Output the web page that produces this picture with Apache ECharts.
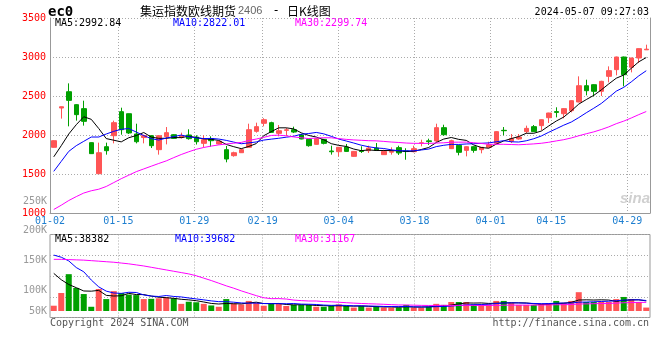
<!DOCTYPE html>
<html><head><meta charset="utf-8">
<script src="https://cdn.jsdelivr.net/npm/echarts@6/dist/echarts.min.js"></script>
<style>html,body{margin:0;padding:0;background:#fff}#c{width:660px;height:360px}</style>
</head><body><div id="c"></div>
<script>
const dates = ['01-02','01-03','01-04','01-05','01-08','01-09','01-10','01-11','01-12','01-15','01-16','01-17','01-18','01-19','01-22','01-23','01-24','01-25','01-26','01-29','01-30','01-31',
'02-01','02-02','02-05','02-06','02-07','02-08','02-19','02-20','02-21','02-22','02-23','02-26','02-27','02-28','02-29',
'03-01','03-04','03-05','03-06','03-07','03-08','03-11','03-12','03-13','03-14','03-15','03-18','03-19','03-20','03-21','03-22','03-25','03-26','03-27','03-28','03-29',
'04-01','04-02','04-03','04-08','04-09','04-10','04-11','04-12','04-15','04-16','04-17','04-18','04-19','04-22','04-23','04-24','04-25','04-26','04-29','04-30',
'05-06','05-07'];
const openP  = [1842,2346,2555,2389,2338,1902,1504,1850,1991,2299,2273,2013,1967,1991,1812,1979,2004,1970,2000,1974,1893,1953,1885,1812,1735,1773,1842,2047,2150,2158,2021,2060,2068,2000,1944,1880,1944,1795,1786,1846,1726,1795,1799,1833,1748,1780,1838,1795,1786,1895,1925,1923,2094,1825,1867,1803,1850,1812,1842,1893,2060,1919,1949,2043,2107,2120,2222,2300,2273,2312,2423,2632,2645,2560,2752,2838,3000,2868,2987,3092];
const closeP = [1927,2362,2444,2261,2175,1761,1773,1799,2158,2068,2026,1914,1992,1863,1991,2030,1957,1988,1953,1914,1940,1927,1920,1692,1773,1812,2068,2107,2196,2034,2055,2066,2038,1949,1863,1953,1893,1785,1842,1790,1790,1788,1833,1803,1790,1788,1770,1788,1825,1900,1915,2094,2004,1927,1778,1850,1803,1842,1876,2043,2055,1953,1974,2085,2043,2196,2282,2290,2338,2440,2632,2568,2560,2688,2825,3000,2773,2987,3107,3100];
const lowP   = [1838,2210,2111,2184,2120,1758,1500,1748,1893,2004,2013,1893,1893,1833,1748,1880,1950,1955,1940,1878,1842,1850,1880,1650,1722,1770,1840,2030,2111,2030,1983,1987,2025,1945,1850,1875,1880,1748,1726,1785,1720,1770,1770,1795,1745,1748,1744,1683,1778,1855,1872,1910,1991,1820,1739,1726,1773,1765,1838,1885,1996,1897,1940,2021,2040,2060,2154,2226,2214,2290,2420,2508,2496,2500,2675,2765,2624,2803,2923,3090];
const highP  = [1932,2365,2662,2395,2440,1905,1902,1902,2184,2350,2275,2145,2004,2000,1995,2102,2010,2030,2073,1996,1996,1983,1925,1859,1786,1825,2145,2158,2215,2170,2128,2090,2107,2013,1950,1960,1950,1863,1846,1885,1795,1855,1863,1897,1812,1842,1863,1830,1863,1940,1953,2145,2132,1940,1870,1855,1855,1846,1914,2050,2102,2013,2013,2120,2128,2200,2285,2355,2345,2445,2752,2709,2650,2695,2880,3005,3005,2990,3110,3158];
const ma5  = [1720,1863,2013,2132,2234,2201,2083,1954,1933,1912,1965,1993,2032,1973,1957,1958,1967,1966,1984,1968,1950,1944,1931,1879,1850,1825,1853,1890,1991,2043,2092,2092,2078,2028,1994,1974,1939,1889,1867,1853,1820,1799,1809,1801,1801,1800,1797,1788,1792,1814,1840,1904,1948,1968,1944,1931,1872,1840,1830,1883,1924,1954,1980,2022,2022,2050,2116,2179,2230,2309,2396,2454,2508,2578,2655,2728,2769,2855,2938,2993];
const ma10 = [1534,1662,1790,1863,1919,1974,1974,2013,2047,2073,2083,2038,1993,1953,1935,1961,1980,1999,1978,1963,1954,1956,1948,1931,1909,1888,1899,1911,1935,1947,1958,1972,1984,2010,2019,2033,2015,1983,1948,1923,1897,1869,1849,1834,1827,1810,1798,1798,1797,1808,1820,1851,1868,1880,1879,1885,1888,1894,1899,1913,1927,1913,1910,1926,1952,1987,2035,2080,2126,2166,2223,2285,2343,2404,2482,2562,2611,2681,2758,2824];
const ma30 = [1045,1100,1160,1210,1256,1285,1305,1340,1390,1440,1485,1530,1565,1600,1635,1668,1710,1750,1785,1817,1840,1858,1873,1885,1895,1905,1930,1948,1970,1994,1998,1989,1975,1965,1954,1961,1965,1964,1954,1944,1937,1932,1927,1925,1918,1910,1904,1897,1893,1893,1892,1897,1900,1908,1908,1909,1901,1892,1881,1881,1881,1878,1875,1880,1886,1894,1907,1924,1940,1962,1990,2016,2040,2070,2104,2145,2178,2218,2261,2301];
// volumes in thousands of lots
const volK = [20,68,139,87,64,16,83,45,75,68,62,60,45,46,48,52,48,27,35,33,27,21,16,45,28,25,38,30,20,27,27,19,23,23,23,16,16,19,25,19,13,19,13,19,13,13,13,23,13,13,16,27,23,34,34,34,25,25,25,38,38,30,23,23,23,27,30,38,30,38,71,34,34,34,34,45,53,45,34,13];
const vma5K = [142,118,100,88,75.6,74.8,77.8,59,56.6,57.4,66.6,62,62,56.2,52.2,50.2,47.8,44.2,42,39,34,28.6,26.4,28.4,27.4,27,30.4,33.2,28.2,28,28.4,24.6,23.2,23.8,23,20.8,20.2,19.4,19.8,19,18.4,19,17.8,16.6,15.4,15.4,14.2,16.2,15,15,15.6,18.4,18.4,22.6,26.8,30.4,30,30.4,28.6,29.4,30.2,31.2,30.8,30.4,27.4,25.2,25.2,28.2,29.6,32.6,41.4,42.2,41.4,42.2,41.4,36.2,40,42.2,42.2,38];
const vma10K = [211,203,189,164,148,117,91,75,68,66.5,70.7,69.9,60.5,56.4,54.8,58.4,54.9,53.1,49.1,45.6,42.1,38.2,35.3,35.2,33.2,30.5,29.5,29.8,28.3,27.7,27.7,27.5,28.2,26,25.5,24.6,22.4,21.3,21.8,21,19.6,19.6,18.6,18.2,17.2,16.9,16.6,17,15.8,15.2,15.5,16.3,17.3,18.8,20.9,23,24.2,24.4,25.6,28.1,30.3,30.6,30.6,29.5,28.4,27.7,28.2,29.5,30,30,33.3,33.7,34.8,35.9,37,38.8,41.1,41.8,42.2,39.7];
const vma30K = [195,195,194,193,192,190,188,186,184,181,178,174,170,165,160,155,150,145,140,133,124,115,105,95,86,76,67,58,50,46.6,46.8,45.2,41.3,39.2,37.8,37.8,35.6,34.7,33.1,31.4,29.8,28.4,27.4,26.5,25.3,24,22.8,22.7,22,21.3,20.9,21.1,21.4,21,21.2,21.5,21.1,20.9,21.1,21.4,21.8,22.2,22.2,22.2,22.2,22.5,23,23.6,23.8,24.4,26.4,26.9,27.6,28.1,28.8,29.8,31.2,31.9,32.6,32.6];
const xTickLabels = ['01-02','01-15','01-29','02-19','03-04','03-18','04-01','04-15','04-29'];
const volTickLabels = ['250K','200K','150K','100K','50K'];
const maLegend = ['MA5:2992.84','MA10:2822.01','MA30:2299.74'];
const volLegend = ['MA5:38382','MA10:39682','MA30:31167'];
const titleParts = ['集运指数欧线期货','2406','-','日K线图'];
const codeText = 'ec0';
const timeText = '2024-05-07 09:27:03';
const footLeft = 'Copyright 2024 SINA.COM';
const footRight = 'http://finance.sina.com.cn';

const MONO = '"DejaVu Sans Mono", monospace';
const RED = '#ff5555', GREEN = '#00a000';
const GRIDC = '#aaaaaa', AXC = '#999999';
const maColors = ['#000000','#0000ff','#ff00ff'];
const dotted = {color: GRIDC, type: [1, 2], width: 1};

const chart = echarts.init(document.getElementById('c'), null, {renderer: 'canvas'});

function txt(x, y, text, color, font, align) {
  return {type: 'text', x: x, y: y, silent: true, z: 100,
    style: {text: text, fill: color, font: font, textAlign: align || 'left', textVerticalAlign: 'middle'}};
}
const graphics = [
  txt(48, 12, codeText, '#000', 'bold 14px ' + MONO),
  txt(140, 11, titleParts[0], '#000', '12px "Noto Sans CJK SC"'),
  txt(238, 11, titleParts[1], '#666', '11px "Liberation Sans"'),
  txt(276, 11, titleParts[2], '#000', '12px ' + MONO, 'center'),
  txt(287, 11, titleParts[3], '#000', '12px "Noto Sans CJK SC"'),
  txt(649, 12, timeText, '#000', '10px ' + MONO, 'right'),
  txt(55, 23, maLegend[0], maColors[0], '10px ' + MONO),
  txt(173, 23, maLegend[1], maColors[1], '10px ' + MONO),
  txt(295, 23, maLegend[2], maColors[2], '10px ' + MONO),
  txt(55, 239, volLegend[0], maColors[0], '10px ' + MONO),
  txt(175, 239, volLegend[1], maColors[1], '10px ' + MONO),
  txt(295, 239, volLegend[2], maColors[2], '10px ' + MONO),
  txt(47, 201, volTickLabels[0], '#999', '10px ' + MONO, 'right'),
  txt(47, 230.5, volTickLabels[1], '#999', '10px ' + MONO, 'right'),
  txt(47, 260, volTickLabels[2], '#999', '10px ' + MONO, 'right'),
  txt(47, 290.5, volTickLabels[3], '#999', '10px ' + MONO, 'right'),
  txt(47, 311, volTickLabels[4], '#999', '10px ' + MONO, 'right'),
  txt(50, 323.5, footLeft, '#555', '10px ' + MONO),
  txt(649, 323.5, footRight, '#555', '10px ' + MONO, 'right'),
  txt(635, 199, 'sina', '#d0d0d0', 'italic bold 15px "Liberation Sans"', 'center')
];

const isTick = (idx, val) => xTickLabels.indexOf(dates[idx]) >= 0;
const isGrid = (idx, val) => idx > 0 && xTickLabels.indexOf(dates[idx]) >= 0;

const option = {
  animation: false,
  backgroundColor: '#fff',
  grid: [
    {left: 50, right: 10, top: 18, height: 195},
    {left: 50, right: 10, top: 234.5, height: 83, show: true, borderColor: AXC, borderWidth: 1, backgroundColor: 'transparent'}
  ],
  xAxis: [
    {gridIndex: 0, type: 'category', data: dates, boundaryGap: true, show: false, position: 'bottom'},
    {gridIndex: 0, type: 'category', data: dates, boundaryGap: false, position: 'bottom',
      axisLine: {show: true, onZero: false, lineStyle: {color: AXC}}, axisTick: {show: false},
      axisLabel: {interval: isTick, color: '#1e7fd0', fontFamily: MONO, fontSize: 10, margin: 3},
      splitLine: {show: true, interval: isGrid, lineStyle: dotted}},
    {gridIndex: 1, type: 'category', data: dates, boundaryGap: true, show: false},
    {gridIndex: 1, type: 'category', data: dates, boundaryGap: false,
      axisLine: {show: false}, axisTick: {show: false}, axisLabel: {show: false},
      splitLine: {show: true, interval: isGrid, lineStyle: dotted}}
  ],
  yAxis: [
    {gridIndex: 0, type: 'value', min: 1000, max: 3500, interval: 500, position: 'left',
      axisLine: {show: true, lineStyle: {color: AXC}}, axisTick: {show: false},
      axisLabel: {color: '#ff0000', fontFamily: MONO, fontSize: 10, margin: 4, formatter: v => String(v)},
      splitLine: {show: true, lineStyle: dotted}},
    {gridIndex: 0, type: 'value', min: 1000, max: 3500, interval: 500, position: 'right',
      axisLine: {show: true, lineStyle: {color: AXC}}, axisTick: {show: false},
      axisLabel: {show: false}, splitLine: {show: false}},
    {gridIndex: 1, type: 'value', min: -24.5, max: 288.7, show: false},
    {gridIndex: 1, type: 'value', min: 0, max: 4, interval: 1,
      axisLine: {show: false}, axisTick: {show: false}, axisLabel: {show: false},
      splitLine: {show: true, lineStyle: dotted}}
  ],
  series: [
    {type: 'candlestick', xAxisIndex: 0, yAxisIndex: 0, barWidth: 5,
      data: dates.map((d, i) => [openP[i], closeP[i], lowP[i], highP[i]]),
      itemStyle: {color: RED, color0: GREEN, borderColor: RED, borderColor0: GREEN, borderWidth: 1}},
    {type: 'line', xAxisIndex: 0, yAxisIndex: 0, data: ma5, symbol: 'none', lineStyle: {color: maColors[0], width: 1}, z: 5},
    {type: 'line', xAxisIndex: 0, yAxisIndex: 0, data: ma10, symbol: 'none', lineStyle: {color: maColors[1], width: 1}, z: 5},
    {type: 'line', xAxisIndex: 0, yAxisIndex: 0, data: ma30, symbol: 'none', lineStyle: {color: maColors[2], width: 1}, z: 5},
    {type: 'bar', xAxisIndex: 2, yAxisIndex: 2, barWidth: 6,
      data: volK.map((v, i) => ({value: v, itemStyle: {color: closeP[i] >= openP[i] ? RED : GREEN}}))},
    {type: 'line', xAxisIndex: 2, yAxisIndex: 2, data: vma5K, symbol: 'none', lineStyle: {color: maColors[0], width: 1}, z: 5},
    {type: 'line', xAxisIndex: 2, yAxisIndex: 2, data: vma10K, symbol: 'none', lineStyle: {color: maColors[1], width: 1}, z: 5},
    {type: 'line', xAxisIndex: 2, yAxisIndex: 2, data: vma30K, symbol: 'none', lineStyle: {color: maColors[2], width: 1}, z: 5}
  ],
  graphic: graphics
};
chart.setOption(option);
</script></body></html>
